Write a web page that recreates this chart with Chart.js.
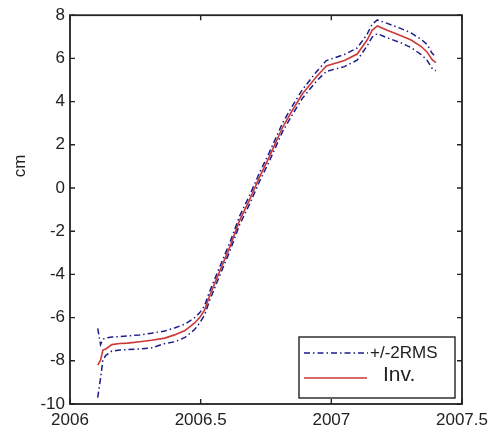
<!DOCTYPE html>
<html>
<head>
<meta charset="utf-8">
<script src="https://cdn.jsdelivr.net/npm/chart.js@4"></script>
<style>
  html, body { margin: 0; padding: 0; background: #fff; }
  #wrap { width: 490px; height: 432px; }
</style>
</head>
<body>
<div id="wrap"><canvas id="dispChart" width="490" height="432"></canvas></div>
<script>
// time axis (decimal years)
const years = [
    2006.106, 2006.117, 2006.126, 2006.137, 2006.160, 2006.190, 2006.220, 2006.267,
    2006.313, 2006.363, 2006.400, 2006.440, 2006.477, 2006.496, 2006.515, 2006.534,
    2006.573, 2006.611, 2006.649, 2006.687, 2006.725, 2006.763, 2006.813, 2006.851,
    2006.889, 2006.943, 2006.981, 2007.050, 2007.099, 2007.137, 2007.156, 2007.176,
    2007.214, 2007.267, 2007.305, 2007.344, 2007.366, 2007.385, 2007.400
];

// inverted displacement (cm)
const inv = [
    -8.20, -7.97, -7.50, -7.45, -7.25, -7.20, -7.18, -7.12,
    -7.05, -6.95, -6.80, -6.60, -6.25, -6.00, -5.65, -5.00,
    -3.85, -2.75, -1.50, -0.55, 0.50, 1.45, 2.80, 3.60,
    4.35, 5.15, 5.65, 5.90, 6.20, 6.85, 7.30, 7.50,
    7.30, 7.05, 6.85, 6.55, 6.30, 5.95, 5.80
];

// +2RMS envelope
const upper = [
    -6.50, -7.25, -7.00, -6.95, -6.90, -6.88, -6.85, -6.80,
    -6.72, -6.62, -6.48, -6.30, -6.00, -5.78, -5.45, -4.80,
    -3.65, -2.55, -1.30, -0.35, 0.70, 1.65, 3.00, 3.80,
    4.55, 5.38, 5.90, 6.18, 6.48, 7.12, 7.58, 7.78,
    7.62, 7.38, 7.18, 6.88, 6.65, 6.25, 6.05
];

// -2RMS envelope
const lower = [
    -9.70, -8.80, -7.95, -7.75, -7.55, -7.50, -7.48, -7.45,
    -7.40, -7.20, -7.12, -6.92, -6.55, -6.25, -5.88, -5.22,
    -4.05, -2.95, -1.70, -0.75, 0.30, 1.25, 2.60, 3.40,
    4.15, 4.95, 5.40, 5.62, 5.92, 6.58, 6.98, 7.15,
    6.95, 6.72, 6.50, 6.18, 5.92, 5.55, 5.42
];

const xTicks = [2006, 2006.5, 2007, 2007.5];

const toPoints = values => years.map((yr, i) => ({ x: yr, y: values[i] }));

const BLUE = '#1c1c8a';
const RED = '#cc3838';
const AXIS = '#222';
const FONT = '"Liberation Sans", Arial, sans-serif';
const dashDot = [6, 3, 1.5, 3];

// box, inward ticks, y label and legend, MATLAB style
const matlabFrame = {
    id: 'matlabFrame',
    afterDraw(chart) {
        const { ctx, chartArea: a, scales } = chart;
        ctx.save();
        ctx.strokeStyle = AXIS;
        ctx.lineWidth = 1.8;
        ctx.strokeRect(a.left, a.top, a.right - a.left, a.bottom - a.top);

        ctx.lineWidth = 1.4;
        ctx.beginPath();
        scales.x.ticks.forEach(t => {
            const px = scales.x.getPixelForValue(t.value);
            ctx.moveTo(px, a.bottom); ctx.lineTo(px, a.bottom - 5);
            ctx.moveTo(px, a.top); ctx.lineTo(px, a.top + 5);
        });
        scales.y.ticks.forEach(t => {
            const py = scales.y.getPixelForValue(t.value);
            ctx.moveTo(a.left, py); ctx.lineTo(a.left + 5, py);
            ctx.moveTo(a.right, py); ctx.lineTo(a.right - 5, py);
        });
        ctx.stroke();

        // y axis label
        ctx.fillStyle = '#222';
        ctx.font = '17px ' + FONT;
        ctx.translate(20, 166);
        ctx.rotate(-Math.PI / 2);
        ctx.textAlign = 'center';
        ctx.textBaseline = 'middle';
        ctx.fillText('cm', 0, 0);
        ctx.setTransform(1, 0, 0, 1, 0, 0);

        // legend box in the lower right corner
        const bx = 299, by = 337, bw = 156, bh = 61;
        ctx.fillStyle = '#fff';
        ctx.fillRect(bx, by, bw, bh);
        ctx.strokeStyle = AXIS;
        ctx.lineWidth = 1.4;
        ctx.strokeRect(bx, by, bw, bh);

        ctx.lineWidth = 1.5;
        ctx.strokeStyle = BLUE;
        ctx.setLineDash(dashDot);
        ctx.beginPath(); ctx.moveTo(304, 353); ctx.lineTo(368, 353); ctx.stroke();
        ctx.setLineDash([]);
        ctx.strokeStyle = RED;
        ctx.beginPath(); ctx.moveTo(304, 378); ctx.lineTo(367, 378); ctx.stroke();

        ctx.fillStyle = '#222';
        ctx.textAlign = 'left';
        ctx.textBaseline = 'middle';
        ctx.font = '17px ' + FONT;
        ctx.fillText('+/-2RMS', 370, 353);
        ctx.font = '21px ' + FONT;
        ctx.fillText('Inv.', 383, 375);
        ctx.restore();
    }
};

const ctx = document.getElementById('dispChart').getContext('2d');
new Chart(ctx, {
    type: 'line',
    data: {
        datasets: [
            {
                label: '+/-2RMS',
                data: toPoints(upper),
                borderColor: BLUE,
                borderWidth: 1.5,
                borderDash: dashDot,
                pointRadius: 0,
                tension: 0
            },
            {
                label: '-2RMS',
                data: toPoints(lower),
                borderColor: BLUE,
                borderWidth: 1.5,
                borderDash: dashDot,
                pointRadius: 0,
                tension: 0
            },
            {
                label: 'Inv.',
                data: toPoints(inv),
                borderColor: RED,
                borderWidth: 1.6,
                pointRadius: 0,
                tension: 0
            }
        ]
    },
    options: {
        responsive: false,
        animation: false,
        layout: { padding: { top: 15, right: 28, left: 0, bottom: 0 } },
        scales: {
            x: {
                type: 'linear',
                min: 2006,
                max: 2007.5,
                afterBuildTicks: axis => { axis.ticks = xTicks.map(v => ({ value: v })); },
                afterFit: axis => {
                    axis.height = 28;
                    // let the last label hang past the frame, as in the original
                    axis.paddingLeft = 0;
                    axis.paddingRight = 0;
                },
                grid: { display: false, drawTicks: false },
                border: { display: false },
                ticks: {
                    padding: 6,
                    color: '#222',
                    font: { family: FONT, size: 17 },
                    callback: v => String(v)
                }
            },
            y: {
                min: -10,
                max: 8,
                afterFit: axis => { axis.width = 70; },
                grid: { display: false, drawTicks: false },
                border: { display: false },
                ticks: {
                    stepSize: 2,
                    padding: 5,
                    color: '#222',
                    font: { family: FONT, size: 17 }
                }
            }
        },
        plugins: {
            legend: { display: false },
            tooltip: { enabled: false }
        }
    },
    plugins: [matlabFrame]
});
</script>
</body>
</html>
